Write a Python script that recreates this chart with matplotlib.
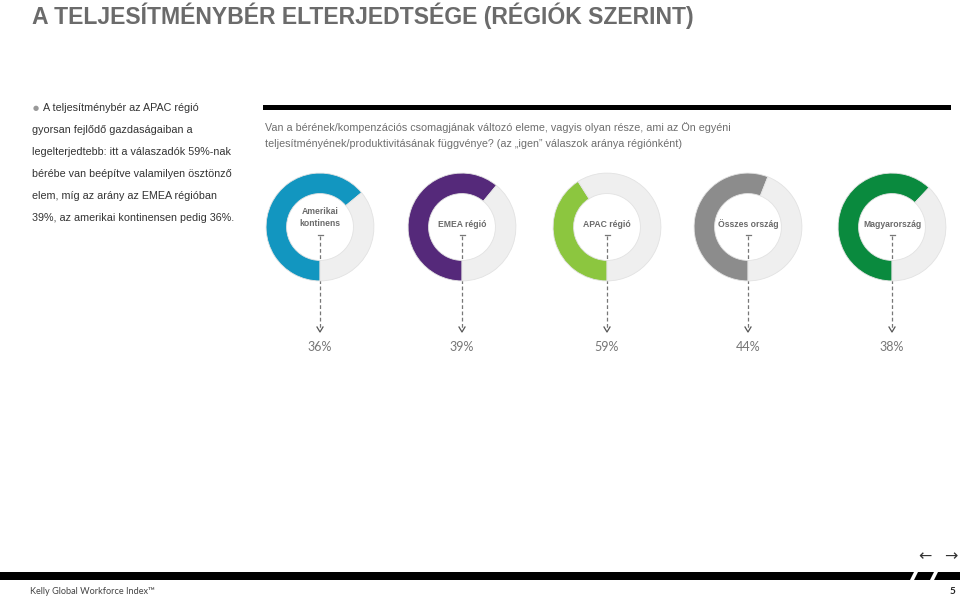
import matplotlib
matplotlib.use("Agg")
import matplotlib.pyplot as plt
from matplotlib.patches import Polygon, Rectangle

# ---------------- data ----------------
regions = ["Amerikai\nkontinens", "EMEA régió", "APAC régió", "Összes ország", "Magyarország"]
yes_pct = [36, 39, 59, 44, 38]
pct_labels = ["36%", "39%", "59%", "44%", "38%"]
ring_colors = ["#1296c0", "#55297a", "#8cc63f", "#8c8c8c", "#0a8a3e"]

title = "A TELJESÍTMÉNYBÉR ELTERJEDTSÉGE (RÉGIÓK SZERINT)"
bullet_lines = ["A teljesítménybér az APAC régió",
                "gyorsan fejlődő gazdaságaiban a",
                "legelterjedtebb: itt a válaszadók 59%-nak",
                "bérébe van beépítve valamilyen ösztönző",
                "elem, míg az arány az EMEA régióban",
                "39%, az amerikai kontinensen pedig 36%."]
question_lines = ["Van a bérének/kompenzációs csomagjának változó eleme, vagyis olyan része, ami az Ön egyéni",
                  "teljesítményének/produktivitásának függvénye? (az \u201eigen\u201d válaszok aránya régiónként)"]
footer = "Kelly Global Workforce Index\u2122"
page = "5"

# ---------------- layout ----------------
W, H = 960, 599
sans = ["Liberation Sans", "DejaVu Sans"]

fig = plt.figure(figsize=(W / 100, H / 100), dpi=100)
bg = fig.add_axes([0, 0, 1, 1])
bg.set_xlim(0, W)
bg.set_ylim(H, 0)
bg.axis("off")

px = 72 / 100  # points per pixel

bg.text(32, 16, title, fontsize=23 * px, fontweight="bold", color="#6b6b6b",
        family=sans, va="center", ha="left")

# bullet text
bg.text(33, 108, "\u25cf", fontsize=7 * px, color="#999999", va="center", ha="left")
for i, line in enumerate(bullet_lines):
    x = 43 if i == 0 else 32
    bg.text(x, 108 + i * 22, line, fontsize=10.8 * px, color="#333333",
            family=sans, va="center", ha="left")

# black bar above the question
bg.add_patch(Rectangle((263, 105), 688, 5, color="black", lw=0))
for i, line in enumerate(question_lines):
    bg.text(265, 128 + i * 16, line, fontsize=10.8 * px, color="#6e6e6e",
            family=sans, va="center", ha="left")

centers_x = [320, 462, 607, 748, 892]
cy, R = 227, 55

for cx, lab, v, col, pl in zip(centers_x, regions, yes_pct, ring_colors, pct_labels):
    ax = fig.add_axes([(cx - R) / W, (H - cy - R) / H, 2 * R / W, 2 * R / H])
    ax.pie([100 - v, v], colors=[col, "#efefef"], startangle=270, counterclock=False,
           radius=1.0, wedgeprops=dict(width=0.38, edgecolor="#e2e2e2", linewidth=0.6))
    ax.set_xlim(-1.02, 1.02)
    ax.set_ylim(-1.02, 1.02)
    ax.set_aspect("auto")
    ax.axis("off")
    ty = 0.18 if "\n" in lab else 0.05
    ax.text(0, ty, lab, ha="center", va="center",
            fontsize=8.6 * px, color="#6a6a6a", fontweight="bold",
            family=sans, linespacing=1.45)
    # dashed connector
    bg.plot([cx, cx], [236, 328], ls=(0, (3, 2)), color="#777777", lw=0.9)
    bg.plot([cx - 2.5, cx + 2.5], [235, 235], color="#777777", lw=0.9)
    bg.plot([cx - 3, cx, cx + 3], [327, 332, 327], color="#555555", lw=0.9)
    bg.text(cx, 347, pl, ha="center", va="center", fontsize=12.5 * px, color="#777777",
            family=["Lato", "DejaVu Sans"])

# bottom band
bg.add_patch(Polygon([(0, 572), (914, 572), (910, 580), (0, 580)], closed=True, color="black", lw=0))
bg.add_patch(Polygon([(918, 572), (934, 572), (930, 580), (914, 580)], closed=True, color="black", lw=0))
bg.add_patch(Polygon([(938, 572), (960, 572), (960, 580), (934, 580)], closed=True, color="black", lw=0))
bg.text(925, 557, "\u2190", ha="center", va="center", fontsize=16 * px, color="#333333")
bg.text(951, 557, "\u2192", ha="center", va="center", fontsize=16 * px, color="#333333")
bg.text(30, 592, footer, ha="left", va="center", fontsize=9.2 * px, color="#444444",
        family=["Lato", "DejaVu Sans"])
bg.text(952, 592, page, ha="center", va="center", fontsize=10 * px, color="#222222",
        fontweight="bold", family=["Lato", "DejaVu Sans"])

fig.savefig("out.png", dpi=100)
